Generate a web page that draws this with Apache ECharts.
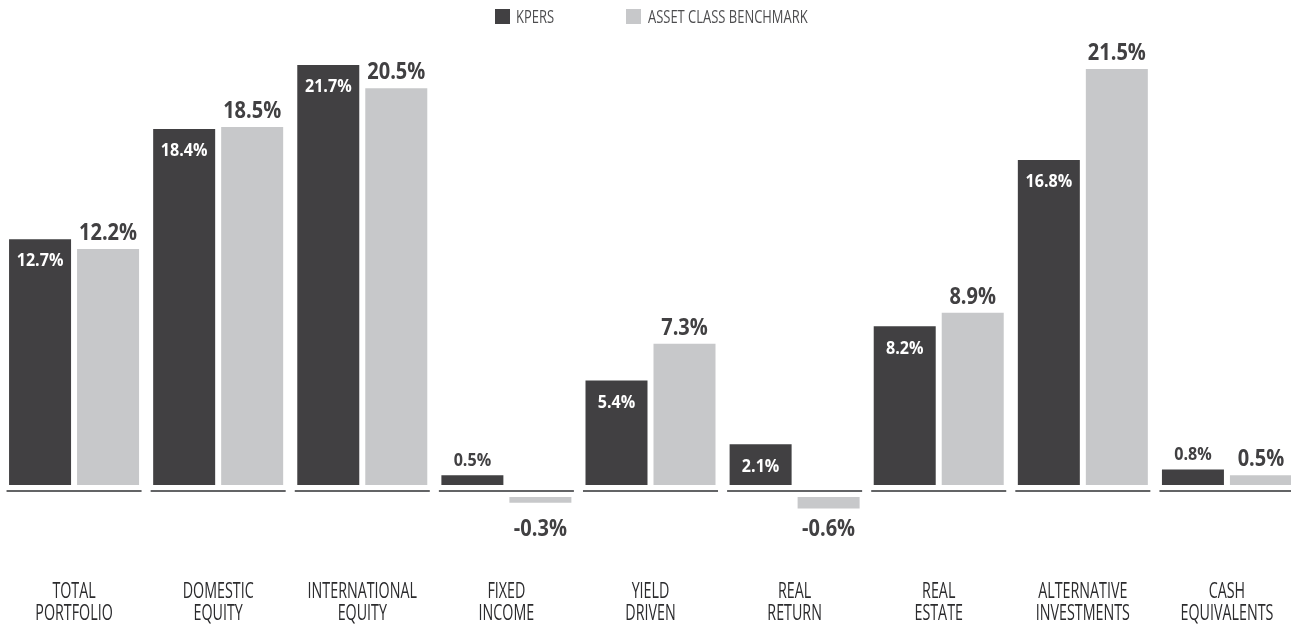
<!DOCTYPE html>
<html>
<head>
<meta charset="utf-8">
<script src="https://cdn.jsdelivr.net/npm/echarts@6/dist/echarts.min.js"></script>
<style>
  html, body { margin: 0; padding: 0; background: #ffffff; }
  #chart { width: 1291px; height: 625px; }
</style>
</head>
<body>
<div id="chart"></div>
<script>
// Asset class returns: KPERS vs. asset class benchmark (percent)
const categories = [
  'TOTAL\nPORTFOLIO', 'DOMESTIC\nEQUITY', 'INTERNATIONAL\nEQUITY', 'FIXED\nINCOME',
  'YIELD\nDRIVEN', 'REAL\nRETURN', 'REAL\nESTATE', 'ALTERNATIVE\nINVESTMENTS', 'CASH\nEQUIVALENTS'
];
const kpersValues = [12.7, 18.4, 21.7, 0.5, 5.4, 2.1, 8.2, 16.8, 0.8];
const benchmarkValues = [12.2, 18.5, 20.5, -0.3, 7.3, -0.6, 8.9, 21.5, 0.5];
const seriesNames = ['KPERS', 'ASSET CLASS BENCHMARK'];

const DARK = '#414042';
const LIGHT = '#c7c8ca';
const TEXT = '#3a3a3c';
const FONT = "'Open Sans', 'Noto Sans', sans-serif";
const BAR_W = 62;
const BAR_GAP_PX = 6;
const BAR_GAP = (BAR_GAP_PX / BAR_W * 100).toFixed(2) + '%';
const HALF_PITCH = (BAR_W + BAR_GAP_PX) / 2;   // bar centre offset from category centre

const fmt = v => v.toFixed(1) + '%';

// condensed text: horizontally squeezed glyphs
function condensedText(x, y, text, opts) {
  return {
    type: 'text', x: x, y: y, scaleX: opts.scaleX, silent: true,
    style: {
      text: text, fill: opts.fill || TEXT,
      fontFamily: FONT, fontSize: opts.fontSize, fontWeight: opts.fontWeight || 'normal',
      align: opts.align || 'center', verticalAlign: 'middle'
    }
  };
}

const kpersLabelStyle = { fontSize: 18.5, fontWeight: 'bold', scaleX: 0.87 };
const benchLabelStyle = { fontSize: 23, fontWeight: 'bold', scaleX: 0.87, fill: DARK };
const categoryLabelStyle = { fontSize: 21, scaleX: 0.68, fill: '#2b2b2d' };

// Benchmark bars split between the upper (positive) and lower (negative) panels
const benchPos = benchmarkValues.map(v => (v >= 0 ? v : '-'));
const benchNeg = benchmarkValues.map(v => (v < 0 ? v : '-'));
const emptyRow = categories.map(() => '-');

const chart = echarts.init(document.getElementById('chart'), null, { renderer: 'canvas' });

chart.setOption({
  backgroundColor: '#ffffff',
  animation: false,
  graphic: [
    // legend
    { type: 'rect', left: 495, top: 9, shape: { width: 15, height: 15 }, style: { fill: DARK } },
    condensedText(516, 17.5, seriesNames[0], { fontSize: 18, scaleX: 0.72, align: 'left', fill: '#4d4d4f' }),
    { type: 'rect', left: 626, top: 9, shape: { width: 15, height: 15 }, style: { fill: LIGHT } },
    condensedText(648, 17.5, seriesNames[1], { fontSize: 18, scaleX: 0.72, align: 'left', fill: '#4d4d4f' })
  ],
  grid: [
    { left: 2, width: 1297, top: 1.2, height: 483.8, outerBoundsMode: 'none' },
    { left: 2, width: 1297, top: 497, height: 77.4, outerBoundsMode: 'none' }
  ],
  xAxis: [
    {
      type: 'category', gridIndex: 0, data: categories,
      axisLine: { show: false }, axisTick: { show: false }, axisLabel: { show: false }
    },
    {
      type: 'category', gridIndex: 1, data: categories,
      axisLine: { show: false }, axisTick: { show: false }, axisLabel: { show: false }
    }
  ],
  yAxis: [
    { type: 'value', gridIndex: 0, min: 0, max: 25, show: false, splitLine: { show: false } },
    { type: 'value', gridIndex: 1, min: -4, max: 0, show: false, splitLine: { show: false } }
  ],
  series: [
    {
      name: seriesNames[0], type: 'bar', xAxisIndex: 0, yAxisIndex: 0,
      data: kpersValues, barWidth: BAR_W, barGap: BAR_GAP,
      itemStyle: { color: DARK }
    },
    {
      name: seriesNames[1], type: 'bar', xAxisIndex: 0, yAxisIndex: 0,
      data: benchPos, barWidth: BAR_W, barGap: BAR_GAP,
      itemStyle: { color: LIGHT }
    },
    {
      // placeholder keeps the negative benchmark bars in the right-hand slot
      name: seriesNames[0] + ' ', type: 'bar', xAxisIndex: 1, yAxisIndex: 1,
      data: emptyRow, barWidth: BAR_W, barGap: BAR_GAP, silent: true,
      itemStyle: { color: DARK }
    },
    {
      name: seriesNames[1], type: 'bar', xAxisIndex: 1, yAxisIndex: 1,
      data: benchNeg, barWidth: BAR_W, barGap: BAR_GAP,
      itemStyle: { color: LIGHT }
    },
    {
      // short baseline under each category group
      type: 'custom', xAxisIndex: 0, yAxisIndex: 0, clip: false, silent: true,
      data: categories.map((c, i) => [i, 0]),
      renderItem: (params, api) => {
        const p = api.coord([api.value(0), 0]);
        const w = api.size([1, 0])[0] * 0.937;
        return {
          type: 'rect',
          shape: { x: p[0] - w / 2, y: p[1] + 5, width: w, height: 2 },
          style: { fill: '#636466' }
        };
      }
    },
    {
      // KPERS value labels: inside the bar when there is room, above it otherwise
      type: 'custom', xAxisIndex: 0, yAxisIndex: 0, clip: false, silent: true, z: 5,
      data: kpersValues.map((v, i) => [i, v]),
      renderItem: (params, api) => {
        const v = api.value(1);
        const p = api.coord([api.value(0), v]);
        const x = p[0] - HALF_PITCH;
        return v >= 2
          ? condensedText(x, p[1] + 22, fmt(v), Object.assign({ fill: '#ffffff' }, kpersLabelStyle))
          : condensedText(x, p[1] - 14.5, fmt(v), Object.assign({ fill: DARK }, kpersLabelStyle));
      }
    },
    {
      // benchmark value labels above positive bars
      type: 'custom', xAxisIndex: 0, yAxisIndex: 0, clip: false, silent: true, z: 5,
      data: benchmarkValues.map((v, i) => [i, v]).filter(d => d[1] >= 0),
      renderItem: (params, api) => {
        const v = api.value(1);
        const p = api.coord([api.value(0), v]);
        return condensedText(p[0] + HALF_PITCH, p[1] - 15.5, fmt(v), benchLabelStyle);
      }
    },
    {
      // benchmark value labels below negative bars
      type: 'custom', xAxisIndex: 1, yAxisIndex: 1, clip: false, silent: true, z: 5,
      data: benchmarkValues.map((v, i) => [i, v]).filter(d => d[1] < 0),
      renderItem: (params, api) => {
        const v = api.value(1);
        const p = api.coord([api.value(0), 0]);
        return condensedText(p[0] + HALF_PITCH, p[1] + 32.5, fmt(v), benchLabelStyle);
      }
    },
    {
      // two-line category names under the chart
      type: 'custom', xAxisIndex: 1, yAxisIndex: 1, clip: false, silent: true,
      data: categories.map((c, i) => [i, 0]),
      renderItem: (params, api) => {
        const idx = api.value(0);
        const p = api.coord([idx, 0]);
        const lines = categories[idx].split('\n');
        return {
          type: 'group',
          children: lines.map((t, k) =>
            condensedText(p[0], p[1] + 95.5 + k * 21.5, t, categoryLabelStyle))
        };
      }
    }
  ]
});
</script>
</body>
</html>
